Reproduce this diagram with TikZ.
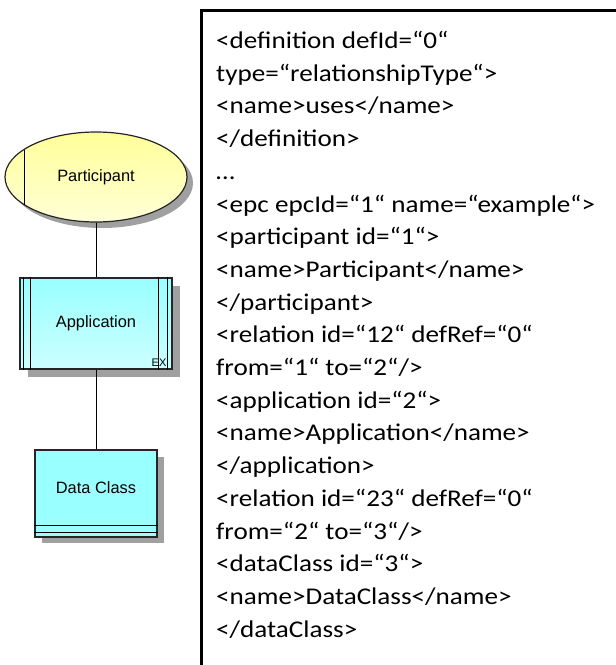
\documentclass[tikz,border=0pt]{standalone}
\usepackage{fontspec}
\setmainfont{Carlito}
\newfontfamily\xmlfont[FakeStretch=1.13]{Carlito}
\newfontfamily\arialfont{Liberation Sans}
\usetikzlibrary{shapes.geometric}
\definecolor{partyellow}{HTML}{FFFF99}
\definecolor{partlight}{HTML}{FFFFD6}
\definecolor{appcyan}{HTML}{99FFFF}
\definecolor{applight}{HTML}{CCFFFF}
\definecolor{shadowgray}{HTML}{A0A0A0}
\tikzset{
  objbox/.style={draw=black!85, line width=1.2pt, inner sep=0pt,
    font=\arialfont\fontsize{16.4}{19}\selectfont},
  objshadow/.style={fill=shadowgray, draw=none},
  link/.style={draw=black, line width=1pt}
}
\begin{document}
\begin{tikzpicture}[x=1pt, y=-1pt]
			\useasboundingbox (0,0) rectangle (616,665);
			% Ombre
			\fill[shadowgray] (102,183) ellipse (91 and 45);
			\fill[shadowgray] (28,286) rectangle (180,377);
			\fill[shadowgray] (42,457) rectangle (164,543);
			
			% Participant
			\node[objbox, ellipse, minimum width=182pt, minimum height=90pt,
			  top color=partyellow, bottom color=partlight] (part) at (96,177) {Participant};
			\draw[line width=1pt] ([shift={(-72pt,27.5pt)}]part.center) -- ([shift={(-72pt,-27.5pt)}]part.center);
			
			% Application
			\node[objbox, rectangle, minimum width=152pt, minimum height=91pt,
			  top color=appcyan, bottom color=applight] (app) at (96,323.5) {Application};
			\foreach \dx in {4, 11} \draw[line width=1pt] ([xshift=\dx pt]app.north west) -- ([xshift=\dx pt]app.south west);
			\foreach \dx in {5, 14} \draw[line width=1pt] ([xshift=-\dx pt]app.north east) -- ([xshift=-\dx pt]app.south east);
			\node[font=\arialfont\fontsize{11}{11}\selectfont, inner sep=0pt] (ex) at (159,362.5) {EX};
			
			% Data Class
			\node[objbox, rectangle, minimum width=122pt, minimum height=87pt,
			  fill=appcyan, text depth=0pt] (dc) at (96,493.5) {};
			\node[font=\arialfont\fontsize{16.4}{19}\selectfont, inner sep=0pt] (dclabel) at (96,488) {Data Class};
			\foreach \dy in {5, 12} \draw[line width=1pt] ([yshift=\dy pt]dc.south west) -- ([yshift=\dy pt]dc.south east);
			
			% Collegamenti
			\draw[link] (part) -- (app);
			\draw[link] (app) -- (dc);
			
			% Riquadro XML
			\draw[line width=3pt] (201,680) -- (201,10) -- (630,10);
			\node[anchor=north west, inner sep=0pt, align=left, font=\xmlfont\fontsize{24}{32.7}\selectfont] (xml) at (216,31) {%
			  <definition defId=“0“\\
			  type=“relationshipType“>\\
			  <name>uses</name>\\
			  </definition>\\
			  …\\
			  <epc epcId=“1“ name=“example“>\\
			  <participant id=“1“>\\
			  <name>Participant</name>\\
			  </participant>\\
			  <relation id=“12“ defRef=“0“\\
			  from=“1“ to=“2“/>\\
			  <application id=“2“>\\
			  <name>Application</name>\\
			  </application>\\
			  <relation id=“23“ defRef=“0“\\
			  from=“2“ to=“3“/>\\
			  <dataClass id=“3“>\\
			  <name>DataClass</name>\\
			  </dataClass>};
		\end{tikzpicture}
\end{document}
